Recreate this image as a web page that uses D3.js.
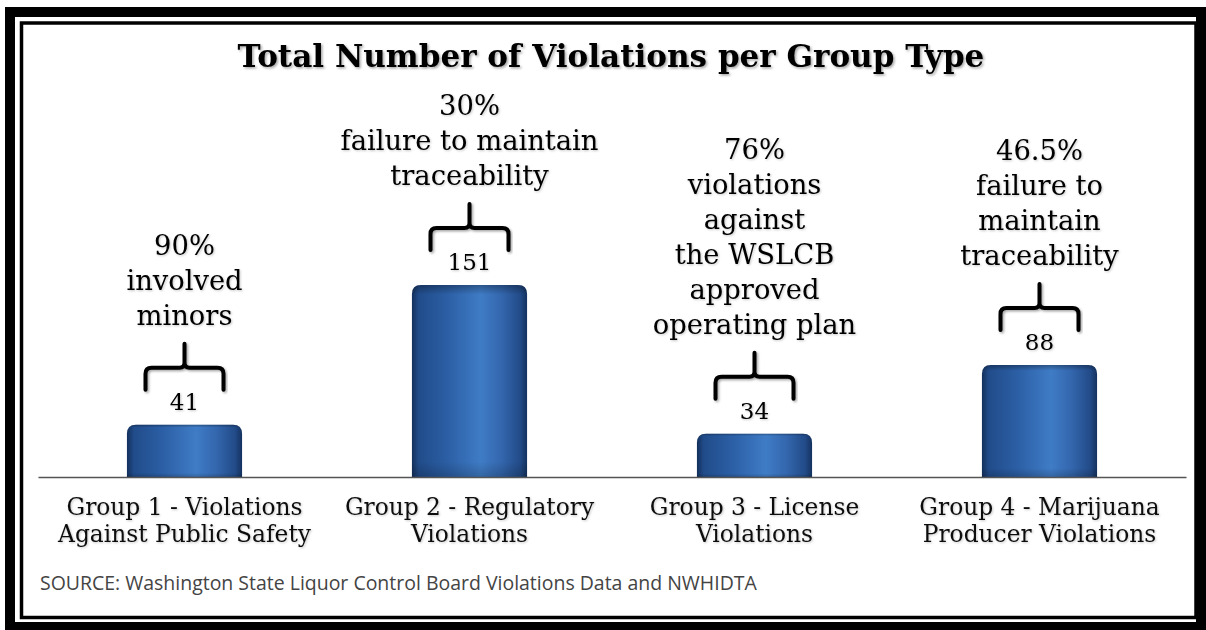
<!DOCTYPE html>
<html><head><meta charset="utf-8">
<script src="https://cdn.jsdelivr.net/npm/d3@7/dist/d3.min.js"></script>
<style>html,body{margin:0;padding:0;background:#fff;}svg{display:block;}</style>
</head><body>
<svg id="c" width="1206" height="630"></svg>
<script>
const categories = [
  ["Group 1 - Violations", "Against Public Safety"],
  ["Group 2 - Regulatory", "Violations"],
  ["Group 3 - License", "Violations"],
  ["Group 4 - Marijuana", "Producer Violations"]
];
const values = [41, 151, 34, 88];
const annotations = [
  ["90%", "involved", "minors"],
  ["30%", "failure to maintain", "traceability"],
  ["76%", "violations", "against", "the WSLCB", "approved", "operating plan"],
  ["46.5%", "failure to", "maintain", "traceability"]
];
const titleText = "Total Number of Violations per Group Type";
const sourceText = "SOURCE: Washington State Liquor Control Board Violations Data and NWHIDTA";

const W = 1206, H = 630;
const svg = d3.select("#c");
const serif = "'DejaVu Serif', 'Liberation Serif', serif";

svg.append("rect").attr("width", W).attr("height", H).attr("fill", "#fff");

const defs = svg.append("defs");
const g = defs.append("linearGradient").attr("id", "barGrad").attr("x1", 0).attr("x2", 1).attr("y1", 0).attr("y2", 0);
[[0, "#13305c"], [0.06, "#214c8a"], [0.3, "#2b5ea4"], [0.6, "#3f7cc6"], [0.78, "#3366ad"], [0.94, "#224b88"], [1, "#14325f"]]
  .forEach(([o, c]) => g.append("stop").attr("offset", o).attr("stop-color", c));
const gv = defs.append("linearGradient").attr("id", "barShade").attr("x1", 0).attr("x2", 0).attr("y1", 0).attr("y2", 1);
[[0, "#000", 0.3], [0.05, "#000", 0.0], [0.92, "#000", 0.0], [1, "#000", 0.18]]
  .forEach(([o, c, a]) => gv.append("stop").attr("offset", o).attr("stop-color", c).attr("stop-opacity", a));
const f = defs.append("filter").attr("id", "sh").attr("x", "-5%").attr("y", "-20%").attr("width", "110%").attr("height", "150%");
f.append("feDropShadow").attr("dx", 1.5).attr("dy", 1.5).attr("stdDeviation", 1.2).attr("flood-color", "#000").attr("flood-opacity", 0.35);
const f2 = defs.append("filter").attr("id", "sh2").attr("x", "-5%").attr("y", "-20%").attr("width", "110%").attr("height", "150%");
f2.append("feDropShadow").attr("dx", 1).attr("dy", 1).attr("stdDeviation", 1).attr("flood-color", "#000").attr("flood-opacity", 0.22);

// frames
svg.append("rect").attr("x", 10).attr("y", 12).attr("width", 1191).attr("height", 615)
  .attr("fill", "none").attr("stroke", "#000").attr("stroke-width", 10);
svg.append("rect").attr("x", 21.5).attr("y", 23).attr("width", 1174.5).attr("height", 594.5)
  .attr("fill", "none").attr("stroke", "#000").attr("stroke-width", 3.5);

const x = d3.scaleBand().domain(d3.range(values.length)).range([42, 1182]).paddingInner(0.596).paddingOuter(0.298);
const y = d3.scaleLinear().domain([0, 151]).range([477, 285]);

function fit(sel, target) {
  const w = sel.node().getComputedTextLength();
  const fs = parseFloat(sel.attr("font-size"));
  return fs * target / w;
}

// title
const title = svg.append("text").attr("x", 611).attr("y", 67).attr("text-anchor", "middle")
  .attr("font-family", serif).attr("font-weight", "bold").attr("font-size", 30).attr("fill", "#000")
  .attr("filter", "url(#sh)").text(titleText);
title.attr("font-size", fit(title, 747));

// bars
const r = 9;
const barPath = (d, i) => {
  const x0 = x(i), x1 = x(i) + x.bandwidth(), yt = y(d), yb = y(0);
  return `M${x0},${yb} L${x0},${yt + r} Q${x0},${yt} ${x0 + r},${yt} L${x1 - r},${yt} Q${x1},${yt} ${x1},${yt + r} L${x1},${yb} Z`;
};
svg.append("g").selectAll("path").data(values).join("path").attr("d", barPath).attr("fill", "url(#barGrad)");
svg.append("g").selectAll("path").data(values).join("path").attr("d", barPath).attr("fill", "url(#barShade)");

// axis baseline
const axis = svg.append("g").attr("transform", `translate(0,${y(0)})`)
  .call(d3.axisBottom(d3.scaleLinear().range([38, 1186])).ticks(0).tickSize(0).tickFormat(""));
axis.select(".domain").attr("stroke", "#555").attr("stroke-width", 1.6);

// value labels
svg.append("g").selectAll("text").data(values).join("text")
  .attr("x", (d, i) => x(i) + x.bandwidth() / 2).attr("y", d => y(d) - 15)
  .attr("text-anchor", "middle").attr("font-family", serif).attr("font-size", 23).attr("fill", "#000")
  .attr("filter", "url(#sh2)").text(d => d);

// braces
const bw = 78;
svg.append("g").selectAll("path").data(values).join("path")
  .attr("d", (d, i) => {
    const cx = x(i) + x.bandwidth() / 2, top = y(d);
    const yt = top - 81, yh = top - 57, yb = top - 35;
    const x0 = cx - bw / 2, x1 = cx + bw / 2, c = 6, s = 5;
    return `M${x0},${yb} L${x0},${yh + c} Q${x0},${yh} ${x0 + c},${yh} L${cx - s},${yh} Q${cx},${yh} ${cx},${yh - s} L${cx},${yt}` +
      ` M${cx},${yh - s} Q${cx},${yh} ${cx + s},${yh} L${x1 - c},${yh} Q${x1},${yh} ${x1},${yh + c} L${x1},${yb}`;
  })
  .attr("fill", "none").attr("stroke", "#000").attr("stroke-width", 4).attr("stroke-linecap", "round")
  .attr("filter", "url(#sh)");

// annotations
const annRef = svg.append("text").attr("font-family", serif).attr("font-size", 22).text("failure to maintain");
const annFs = fit(annRef, 258);
annRef.remove();
const lh = 35;
const ann = svg.append("g").selectAll("text").data(annotations).join("text")
  .attr("text-anchor", "middle").attr("font-family", serif).attr("font-size", annFs).attr("fill", "#000")
  .attr("filter", "url(#sh2)");
ann.each(function (lines, i) {
  const cx = x(i) + x.bandwidth() / 2;
  const lastY = y(values[i]) - 100;
  d3.select(this).selectAll("tspan").data(lines).join("tspan")
    .attr("x", cx).attr("y", (l, j) => lastY - (lines.length - 1 - j) * lh).text(l => l);
});

// category labels
const catRef = svg.append("text").attr("font-family", serif).attr("font-size", 20).text(categories[0][0]);
const catFs = fit(catRef, 236);
catRef.remove();
const cat = svg.append("g").selectAll("text").data(categories).join("text")
  .attr("text-anchor", "middle").attr("font-family", serif).attr("font-size", catFs).attr("fill", "#111")
  .attr("filter", "url(#sh2)");
cat.each(function (lines, i) {
  const cx = x(i) + x.bandwidth() / 2;
  d3.select(this).selectAll("tspan").data(lines).join("tspan")
    .attr("x", cx).attr("y", (l, j) => 515 + j * 27).text(l => l);
});

// source
const src = svg.append("text").attr("x", 40).attr("y", 590)
  .attr("font-family", "'Open Sans', 'Liberation Sans', sans-serif").attr("font-size", 16).attr("fill", "#444")
  .text(sourceText);
src.attr("font-size", fit(src, 717));
</script>
</body></html>
